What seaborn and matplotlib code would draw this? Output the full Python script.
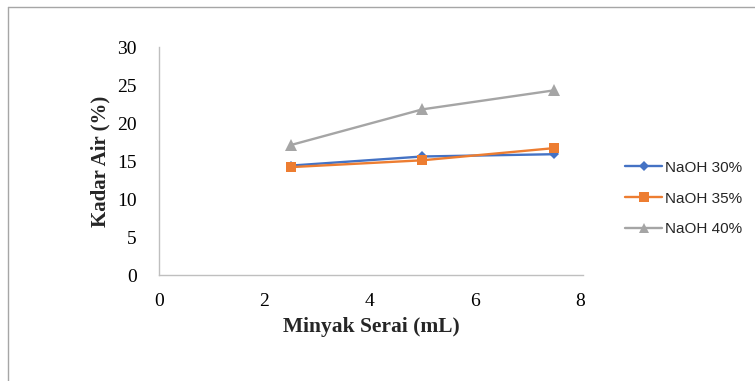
import matplotlib
matplotlib.use("Agg")
import matplotlib.pyplot as plt
from matplotlib.lines import Line2D
import seaborn as sns
import pandas as pd

# Volume of lemongrass oil (mL) and moisture content (%) per NaOH concentration
minyak_serai = [2.5, 5.0, 7.5]
naoh_30 = [14.4, 15.6, 15.9]
naoh_35 = [14.2, 15.1, 16.7]
naoh_40 = [17.1, 21.8, 24.3]
series_names = ["NaOH 30%", "NaOH 35%", "NaOH 40%"]
x_ticks = [0, 2, 4, 6, 8]
y_ticks = [0, 5, 10, 15, 20, 25, 30]

df = pd.DataFrame({
    "x": minyak_serai * 3,
    "y": naoh_30 + naoh_35 + naoh_40,
    "seri": [n for n in series_names for _ in minyak_serai],
})

sns.set_theme(style="white")
palette = {"NaOH 30%": "#4472C4", "NaOH 35%": "#ED7D31", "NaOH 40%": "#A5A5A5"}
markers = {"NaOH 30%": "D", "NaOH 35%": "s", "NaOH 40%": "^"}
msizes = {"NaOH 30%": 5.5, "NaOH 35%": 7.5, "NaOH 40%": 8}

fig = plt.figure(figsize=(7.55, 3.81), dpi=100)
ax = fig.add_axes([0.2106, 0.278, 0.5616, 0.5986])

for name in series_names:
    sub = df[df["seri"] == name]
    sns.lineplot(data=sub, x="x", y="y", ax=ax, color=palette[name],
                 marker=markers[name], markersize=msizes[name],
                 markeredgewidth=0, linewidth=1.7, legend=False)

ax.set_xlim(0, 8.05)
ax.set_ylim(0, 30)
ax.set_xticks(x_ticks)
ax.set_yticks(y_ticks)
ax.set_xticklabels([str(t) for t in x_ticks], fontfamily="Liberation Serif", fontsize=14)
ax.set_yticklabels([str(t) for t in y_ticks], fontfamily="Liberation Serif", fontsize=14)
ax.tick_params(axis="both", length=0, colors="#000000")
ax.tick_params(axis="x", pad=13)
ax.tick_params(axis="y", pad=16)

ax.set_xlabel("Minyak Serai (mL)", fontfamily="Liberation Serif", fontweight="bold",
              fontsize=15.5, labelpad=5)
ax.set_ylabel("Kadar Air (%)", fontfamily="Liberation Serif", fontweight="bold",
              fontsize=15, labelpad=5)

for side in ["top", "right"]:
    ax.spines[side].set_visible(False)
for side in ["left", "bottom"]:
    ax.spines[side].set_color("#BFBFBF")
    ax.spines[side].set_linewidth(1.0)

handles = [Line2D([], [], color=palette[n], marker=markers[n], markersize=msizes[n] * 0.95,
                  markeredgewidth=0, linewidth=1.7) for n in series_names]
leg = fig.legend(handles, series_names, loc="center left", bbox_to_anchor=(0.81, 0.479),
                 frameon=False, prop={"family": "Liberation Sans", "size": 11},
                 handlelength=2.4, labelspacing=1.1, handletextpad=0.2)

# outer frame lines along the top and left edges
fig.add_artist(Line2D([0.0106, 1.0], [0.982, 0.982], transform=fig.transFigure,
                      color="#A6A6A6", linewidth=1.0))
fig.add_artist(Line2D([0.0106, 0.0106], [0.0, 0.982], transform=fig.transFigure,
                      color="#A6A6A6", linewidth=1.0))

fig.savefig("out.png", dpi=100, facecolor="white")
